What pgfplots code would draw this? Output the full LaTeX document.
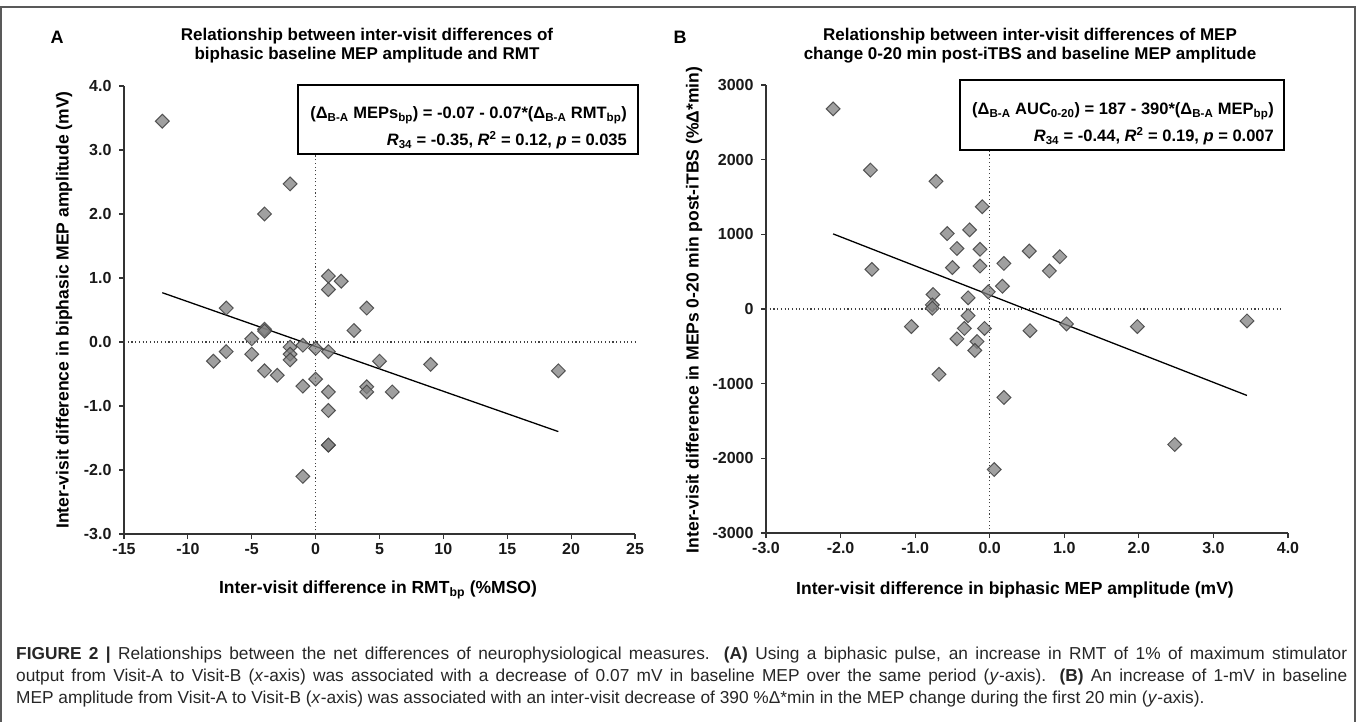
\documentclass[border=0pt]{standalone}
\usepackage{fontspec}
\setmainfont{Liberation Sans}
\usepackage{pgfplots}
\pgfplotsset{compat=1.18}

\newcommand\tfont{\fontsize{16}{18}\selectfont\bfseries}
\newcommand\lfont{\fontsize{17.5}{20}\selectfont\bfseries}
\newcommand\hfont{\fontsize{17}{19}\selectfont\bfseries}
\newcommand\bfont{\fontsize{16.5}{19}\selectfont\bfseries}
\newcommand\sub[1]{\textsubscript{#1}}

\pgfplotstableread{
x y
-12 3.45
-2 2.47
-4 2.00
1 1.03
2 0.95
1 0.82
-7 0.53
4 0.53
-4 0.20
-4 0.17
3 0.18
-5 0.05
-8 -0.30
-7 -0.15
-5 -0.19
-2 -0.08
-2 -0.19
-2 -0.28
-1 -0.05
0 -0.10
1 -0.15
-4 -0.45
-3 -0.52
-1 -0.69
0 -0.58
5 -0.30
9 -0.35
19 -0.45
4 -0.70
4 -0.78
6 -0.78
1 -0.78
1 -1.07
1 -1.61
1 -1.61
-1 -2.10
}\rmtdata

\pgfplotstableread{
x y
-2.10 2680
-1.60 1860
-0.72 1710
-0.10 1370
-0.27 1060
-0.57 1010
-0.44 810
-0.13 800
0.53 775
0.94 700
-1.58 530
-0.50 555
-0.13 575
0.19 610
0.80 510
0.17 305
-0.02 230
-0.76 195
-0.29 150
-0.77 55
-0.77 10
-0.29 -90
-1.05 -235
-0.34 -260
-0.07 -260
0.54 -290
1.03 -200
1.98 -235
3.45 -160
-0.44 -400
-0.17 -435
-0.20 -555
-0.68 -875
0.19 -1185
2.48 -1815
0.06 -2150
}\aucdata

\tikzset{zero line/.style={black!75, line width=1.1pt, dash pattern=on 1.1pt off 2.6pt}}

\pgfplotsset{
  scatter panel/.style={
    anchor=south west, scale only axis,
    axis lines=left,
    axis line style={-, line width=1.3pt, black!80},
    tick align=outside, major tick length=5pt,
    tick style={line width=1.1pt, black!80},
    tick label style={font=\tfont, black!90},
    y tick label style={xshift=-4pt},
    x tick label style={yshift=-1pt},
    /pgf/number format/assume math mode=true,
    clip=false,
  },
  diamonds/.style={only marks, mark=square*, mark size=4.9pt,
    mark options={rotate=45, fill=black!50, fill opacity=0.75,
      draw=black!75, draw opacity=0.85, line width=1pt}},
}

\begin{document}
\begin{tikzpicture}[x=1pt,y=1pt]
\useasboundingbox (0,0) rectangle (1360,721);
\draw[black!65, line width=1.5pt] (1,-5) -- (1,714) -- (1355,714) -- (1355,-5);

% panel A
\node[font=\fontsize{18}{21}\selectfont\bfseries] at (57,721-37) {A};
\node[font=\hfont, align=center] at (367,721-46)
  {Relationship between inter-visit differences of\\biphasic baseline MEP amplitude and RMT};
\begin{axis}[scatter panel,
  at={(124pt,187pt)}, width=511pt, height=448pt,
  xmin=-15, xmax=25, ymin=-3, ymax=4,
  xtick={-15,-10,...,25}, ytick={-3,-2,...,4},
  y tick label style={/pgf/number format/fixed, /pgf/number format/fixed zerofill,
    /pgf/number format/precision=1},
  ]
  \draw[zero line] (axis cs:0,-3) -- (axis cs:0,4);
  \draw[zero line] (axis cs:-15,0) -- (axis cs:25,0);
  \addplot[diamonds] table[x=x, y=y] {\rmtdata};
  \addplot[black, line width=1.3pt] coordinates {(-12,0.77) (19,-1.40)};
\end{axis}
\node[font=\lfont] at (378,721-590) {Inter-visit difference in RMT\sub{bp} (\%MSO)};
\node[font=\lfont, rotate=90] at (64,721-310) {Inter-visit difference in biphasic MEP amplitude (mV)};
\draw[fill=white, line width=1.3pt] (298,721-154) rectangle (638,721-85);
\node[font=\bfont, anchor=base east, inner sep=0pt] at (627,721-118.5)
  {(Δ\sub{B-A} MEPs\sub{bp}) = -0.07 - 0.07*(Δ\sub{B-A} RMT\sub{bp})};
\node[font=\bfont, anchor=base east, inner sep=0pt] at (627,721-145.5)
  {\textit{R}\sub{34} = -0.35, \textit{R}\textsuperscript{2} = 0.12, \textit{p} = 0.035};

% panel B
\node[font=\fontsize{18}{21}\selectfont\bfseries] at (680,721-37) {B};
\node[font=\hfont, align=center] at (1030,721-46)
  {Relationship between inter-visit differences of MEP\\change 0-20 min post-iTBS and baseline MEP amplitude};
\begin{axis}[scatter panel,
  at={(766pt,188pt)}, width=522pt, height=448pt,
  xmin=-3, xmax=4, ymin=-3000, ymax=3000,
  xtick={-3,-2,...,4}, ytick={-3000,-2000,...,3000},
  x tick label style={/pgf/number format/fixed, /pgf/number format/fixed zerofill,
    /pgf/number format/precision=1},
  y tick label style={/pgf/number format/1000 sep={}},
  ]
  \draw[zero line] (axis cs:0,-3000) -- (axis cs:0,3000);
  \draw[zero line] (axis cs:-3,0) -- (axis cs:3.9,0);
  \addplot[diamonds] table[x=x, y=y] {\aucdata};
  \addplot[black, line width=1.3pt] coordinates {(-2.10,1006) (3.45,-1158)};
\end{axis}
\node[font=\lfont] at (1015,721-590) {Inter-visit difference in biphasic MEP amplitude (mV)};
\node[font=\lfont, rotate=90] at (694,721-310) {Inter-visit difference in MEPs 0-20 min post-iTBS (\%Δ*min)};
\draw[fill=white, line width=1.3pt] (960,721-150) rectangle (1284,721-80);
\node[font=\bfont, anchor=base east, inner sep=0pt] at (1274,721-114.5)
  {(Δ\sub{B-A} AUC\sub{0-20}) = 187 - 390*(Δ\sub{B-A} MEP\sub{bp})};
\node[font=\bfont, anchor=base east, inner sep=0pt] at (1274,721-141.5)
  {\textit{R}\sub{34} = -0.44, \textit{R}\textsuperscript{2} = 0.19, \textit{p} = 0.007};

% caption
\node[anchor=base west, inner sep=0pt, text width=1331pt, align=justify,
  font=\fontsize{17.3}{22}\selectfont, text=black!85] at (16,721-659)
  {\textbf{FIGURE 2 |} Relationships between the net differences of neurophysiological measures. \textbf{(A)} Using a biphasic pulse, an increase in RMT of 1\% of maximum stimulator\linebreak
  output from Visit-A to Visit-B (\textit{x}-axis) was associated with a decrease of 0.07 mV in baseline MEP over the same period (\textit{y}-axis). \textbf{(B)} An increase of 1-mV in baseline\linebreak
  MEP amplitude from Visit-A to Visit-B (\textit{x}-axis) was associated with an inter-visit decrease of 390 \%Δ*min in the MEP change during the first 20 min (\textit{y}-axis).};
\end{tikzpicture}
\end{document}
